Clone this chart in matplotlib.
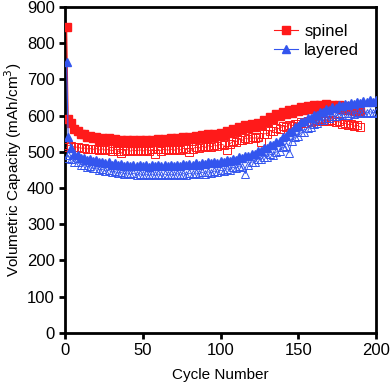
import matplotlib
matplotlib.use("Agg")
import matplotlib.pyplot as plt

plt.rcParams['font.family'] = ['Liberation Sans', 'DejaVu Sans']

# cycle numbers: first cycle, then every second cycle
spinel_cycles = [1] + list(range(2, 191, 2))
layered_cycles = [1] + list(range(2, 201, 2))

# spinel, charge (filled squares)
spinel_charge = [
    845, 592, 580, 563, 558, 548, 549, 540, 544, 537,
    542, 534, 539, 532, 537, 529, 535, 527, 533, 526,
    533, 525, 532, 525, 533, 526, 533, 526, 534, 527,
    535, 527, 536, 528, 537, 529, 538, 530, 540, 533,
    542, 535, 544, 537, 546, 539, 548, 541, 550, 543,
    552, 546, 557, 551, 563, 557, 569, 562, 573, 566,
    576, 568, 579, 573, 587, 583, 597, 592, 604, 598,
    610, 604, 615, 608, 619, 612, 623, 616, 626, 619,
    628, 620, 630, 622, 631, 623, 630, 621, 628, 619,
    626, 616, 623, 614, 619, 611,
]
# spinel, discharge (open squares)
spinel_discharge = [
    512, 518, 517, 513, 513, 510, 511, 508, 509, 507,
    509, 505, 508, 504, 507, 503, 507, 503, 496, 503,
    506, 502, 506, 502, 506, 502, 506, 503, 507, 495,
    507, 503, 508, 504, 508, 504, 509, 505, 510, 507,
    499, 508, 513, 510, 515, 512, 517, 514, 519, 516,
    521, 519, 506, 522, 529, 528, 534, 532, 538, 535,
    540, 537, 542, 527, 550, 550, 558, 558, 565, 564,
    571, 569, 575, 572, 578, 576, 582, 580, 586, 583,
    588, 585, 590, 586, 589, 584, 587, 582, 584, 578,
    580, 575, 577, 571, 573, 568,
]
# layered, charge (filled triangles)
layered_charge = [
    748, 540, 510, 494, 492, 483, 484, 477, 479, 474,
    477, 471, 473, 468, 471, 465, 468, 463, 466, 461,
    465, 460, 464, 460, 464, 460, 464, 459, 464, 460,
    464, 460, 464, 461, 465, 461, 465, 462, 466, 463,
    467, 464, 468, 465, 469, 466, 471, 468, 473, 470,
    475, 472, 478, 475, 481, 478, 485, 483, 489, 488,
    495, 494, 502, 503, 511, 511, 519, 519, 527, 529,
    540, 543, 554, 558, 569, 572, 582, 584, 593, 594,
    602, 602, 610, 610, 617, 616, 623, 621, 628, 627,
    633, 630, 636, 633, 638, 635, 640, 637, 642, 638,
    643,
]
# layered, discharge (open triangles)
layered_discharge = [
    483, 490, 480, 471, 471, 464, 465, 459, 460, 454,
    456, 450, 452, 447, 449, 444, 446, 441, 444, 439,
    442, 438, 441, 436, 440, 435, 439, 435, 439, 435,
    439, 435, 439, 435, 439, 435, 440, 436, 440, 437,
    441, 438, 442, 439, 444, 440, 445, 442, 447, 444,
    449, 447, 453, 451, 457, 455, 461, 459, 440, 464,
    472, 472, 480, 480, 487, 486, 493, 492, 500, 501,
    512, 515, 497, 530, 541, 544, 554, 556, 566, 568,
    578, 579, 587, 587, 594, 593, 600, 598, 604, 601,
    606, 603, 608, 605, 609, 606, 610, 607, 611, 608,
    611,
]

red = '#ff1a1a'
blue = '#3355ee'

fig = plt.figure(figsize=(3.92, 3.88), dpi=100)
ax = fig.add_axes([0.166, 0.142, 0.793, 0.840])

ax.plot(spinel_cycles, spinel_charge, color=red, marker='s', ms=6,
        mec=red, mfc=red, lw=0.8, label='spinel', zorder=3)
ax.plot(spinel_cycles, spinel_discharge, color=red, marker='s', ms=6,
        mec=red, mfc='none', mew=0.7, lw=0.6, zorder=3)
ax.plot(layered_cycles, layered_charge, color=blue, marker='^', ms=6,
        mec=blue, mfc=blue, lw=0.8, label='layered', zorder=4)
ax.plot(layered_cycles, layered_discharge, color=blue, marker='^', ms=6,
        mec=blue, mfc='none', mew=0.7, lw=0.6, zorder=4)

ax.set_xlim(0, 200)
ax.set_ylim(0, 900)
ax.set_xticks(range(0, 201, 50))
ax.set_yticks(range(0, 901, 100))
for s in ax.spines.values():
    s.set_linewidth(2.0)
ax.tick_params(direction='out', length=4, width=2.0, labelsize=12,
               top=False, right=False)
ax.set_xlabel('Cycle Number', fontsize=11, labelpad=7)
ax.set_ylabel('Volumetric Capacity (mAh/cm$^3$)', fontsize=11, labelpad=2)

ax.legend(loc='upper right', frameon=False, fontsize=12, handlelength=1.4,
          handletextpad=0.4, borderaxespad=0.6, labelspacing=0.25)

fig.savefig('out.png', dpi=100)
